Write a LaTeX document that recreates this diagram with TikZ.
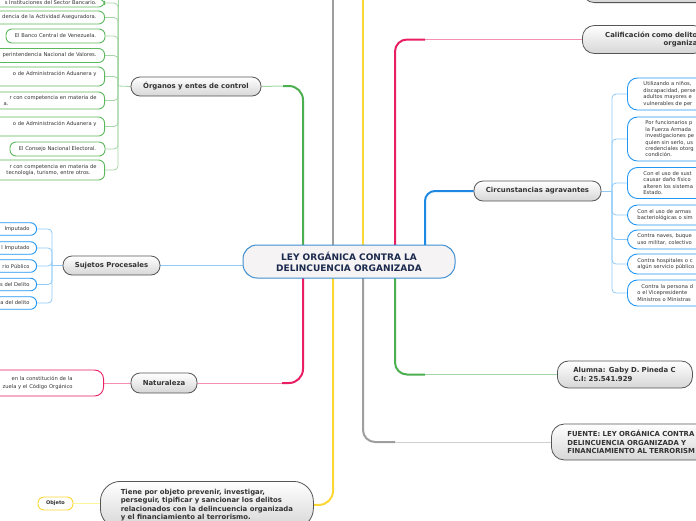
\documentclass[tikz,border=0pt]{standalone}
\usepackage{fontspec}
\setmainfont{DejaVu Sans}
\usetikzlibrary{backgrounds}
\definecolor{gD}{HTML}{4CAF50}
\definecolor{gL}{HTML}{A5D6A7}
\definecolor{gBd}{HTML}{5CB85C}
\definecolor{bD}{HTML}{1E88E5}
\definecolor{bL}{HTML}{90CAF9}
\definecolor{bBd}{HTML}{2196F3}
\definecolor{pD}{HTML}{E91E63}
\definecolor{pL}{HTML}{F48FB1}
\definecolor{yD}{HTML}{FDD835}
\definecolor{yL}{HTML}{FFF59D}
\definecolor{grD}{HTML}{9E9E9E}
\definecolor{grL}{HTML}{CFCFCF}
\definecolor{txt}{HTML}{333333}
\definecolor{navy}{HTML}{1B2A4E}
\definecolor{nodeB}{HTML}{555555}
\definecolor{ctrB}{HTML}{3D8FD1}
\definecolor{ctrF}{HTML}{F5F3F3}
\begin{document}
\begin{tikzpicture}[x=1pt,y=-1pt,
  mainnode/.style={draw=nodeB, line width=0.8pt, rounded corners=9pt, top color=white, bottom color=black!16, text=txt, font=\bfseries\fontsize{6.9}{8.5}\selectfont, inner sep=0pt, align=center},
  leaf/.style={fill=white, line width=0.9pt, rounded corners=6pt, font=\fontsize{5.2}{6.3}\selectfont, text=txt, inner ysep=0pt},
  gleaf/.style={leaf, draw=gBd, anchor=east, text width=150pt, align=right, inner xsep=8pt},
  sleaf/.style={leaf, draw=bBd, anchor=east, text width=100pt, align=right, inner xsep=7pt, minimum height=12.5pt},
  cleaf/.style={leaf, draw=bBd, anchor=west, text width=150pt, align=left, rounded corners=10pt, font=\fontsize{5.2}{6.4}\selectfont},
  darkline/.style={line width=2pt},
  lightline/.style={line width=1pt},
  twig/.style={line width=0.8pt, rounded corners=4pt}
]
\clip (0,0) rectangle (696,520);

% central node
\node[draw=ctrB, line width=1pt, fill=ctrF, rounded corners=14pt, minimum width=212pt, minimum height=33pt, inner sep=0pt, align=center, text=navy, font=\bfseries\fontsize{9}{11}\selectfont] (ctr) at (349,261.5) {LEY ORGÁNICA CONTRA LA\\DELINCUENCIA ORGANIZADA};

% main nodes
\node[mainnode, minimum width=130pt, minimum height=19pt] (org) at (196,86.5) {Órganos y entes de control};
\node[mainnode, minimum width=97pt, minimum height=19pt] (suj) at (111.5,265.5) {Sujetos Procesales};
\node[mainnode, minimum width=66pt, minimum height=20pt] (nat) at (164,383) {Naturaleza};
\node[mainnode, minimum width=213pt, minimum height=47pt, rounded corners=20pt, anchor=north west, align=left] (objb) at (100,481) {Tiene por objeto prevenir, investigar,\\perseguir, tipificar y sancionar los delitos\\relacionados con la delincuencia organizada\\y el financiamiento al terrorismo.};
\node[leaf, draw=yD, font=\bfseries\fontsize{5}{6}\selectfont, minimum width=35pt, minimum height=13pt, inner sep=0pt] (objs) at (55.5,503.5) {Objeto};
\node[mainnode, anchor=south west, minimum width=160pt, minimum height=40pt, rounded corners=12pt] (topn) at (582,3) {};
\node[mainnode, anchor=west, minimum height=28pt, rounded corners=12pt, text width=107pt, align=right, inner xsep=8pt] (calif) at (582,39.5) {Calificación como delito\\organiza};
\node[mainnode, minimum width=127pt, minimum height=20pt] (circ) at (537.5,191) {Circunstancias agravantes};
\node[mainnode, anchor=west, minimum height=27pt, rounded corners=11pt, text width=103pt, align=left, inner xsep=16pt] (alum) at (557,374.5) {Alumna: Gaby D. Pineda C\\C.I: 25.541.929};
\node[mainnode, anchor=west, minimum height=36pt, rounded corners=13pt, text width=150pt, align=left, inner xsep=16pt] (fuente) at (551,442) {FUENTE: LEY ORGÁNICA CONTRA\\DELINCUENCIA ORGANIZADA Y\\FINANCIAMIENTO AL TERRORISM};

% Organos leaves
\node[gleaf, minimum height=8pt] (o1) at (105,3) {s Instituciones del Sector Bancario.};
\node[gleaf, minimum height=13pt] (o2) at (105,17.5) {dencia de la Actividad Aseguradora.};
\node[leaf, draw=gBd, minimum width=99pt, minimum height=14pt, inner xsep=0pt, align=center] (o3) at (55.5,36) {El Banco Central de Venezuela.};
\node[gleaf, minimum height=14pt] (o4) at (105,55.5) {perintendencia Nacional de Valores.};
\node[gleaf, minimum height=19pt] (o5) at (105,76.5) {o de Administración Aduanera y\hspace*{10pt}\\\mbox{}};
\node[gleaf, minimum height=17pt] (o6) at (105,100.5) {r con competencia en materia de\hspace*{4pt}\\a.\hspace*{88pt}};
\node[gleaf, minimum height=19pt] (o7) at (105,126.5) {o de Administración Aduanera y\hspace*{10pt}\\\mbox{}};
\node[leaf, draw=gBd, minimum width=95pt, minimum height=14pt, inner xsep=0pt, align=center] (o8) at (57.5,149) {El Consejo Nacional Electoral.};
\node[gleaf, minimum height=20pt] (o9) at (105,170) {r con competencia en materia de\hspace*{4pt}\\tecnología, turismo, entre otros.\hspace*{6pt}};

% Sujetos leaves
\node[sleaf] (s1) at (37,229) {Imputado};
\node[sleaf] (s2) at (37,248) {l Imputado};
\node[sleaf] (s3) at (37,266) {rio Público};
\node[sleaf] (s4) at (37,284.5) {s del Delito};
\node[sleaf] (s5) at (37,303) {a del delito};

% Naturaleza leaf
\node[leaf, draw=pD, anchor=east, text width=150pt, align=right, inner xsep=31pt, minimum height=26pt, rounded corners=9pt, font=\fontsize{5.2}{7.4}\selectfont] (n1) at (104,383) {en la constitución de la\hspace*{7pt}\\zuela y el Código Orgánico};

% Circunstancias leaves
\node[cleaf, inner xsep=16pt, minimum height=32pt] (c1) at (627,94) {Utilizando a niños,\\discapacidad, perse\\adultos mayores e\\vulnerables de per};
\node[cleaf, inner xsep=18pt, minimum height=44pt] (c2) at (627,139) {Por funcionarios p\\la Fuerza Armada\\investigaciones pe\\quien sin serlo, us\\credenciales otorg\\condición.};
\node[cleaf, inner xsep=16pt, minimum height=31pt] (c3) at (627,183) {Con el uso de sust\\causar daño físico\\alteren los sistema\\Estado.};
\node[cleaf, inner xsep=10pt, minimum height=20pt] (c4) at (627,215) {Con el uso de armas\\bacteriológicas o sim};
\node[cleaf, inner xsep=10pt, minimum height=19pt] (c5) at (627,239.5) {Contra naves, buque\\uso militar, colectivo};
\node[cleaf, inner xsep=10pt, minimum height=20pt] (c6) at (627,264) {Contra hospitales o c\\algún servicio público};
\node[cleaf, inner xsep=10pt, minimum height=26pt] (c7) at (627,293) {\hspace*{4pt}Contra la persona d\\o el Vicepresidente\\Ministros o Ministras};

\begin{scope}[on background layer]
  \fill[white] (0,0) rectangle (696,520);
  % junctions and free ends
  \coordinate (jo) at (118,86);
  \coordinate (js) at (52,265.5);
  \coordinate (jc) at (612,191);
  \coordinate (jg1) at (283,86);
  \coordinate (cg1) at (303,262);
  \coordinate (tgy) at (333,0);
  \coordinate (cgy1) at (333,262);
  \coordinate (tyl) at (363,0);
  \coordinate (cyl1) at (363,262);
  \coordinate (cp1) at (395,262);
  \coordinate (jp1) at (425,39.5);
  \coordinate (cb1) at (425,262);
  \coordinate (cp2) at (303,262);
  \coordinate (jp2) at (282,383);
  \coordinate (cy2) at (333,262);
  \coordinate (cgy2) at (363,262);
  \coordinate (jgy2) at (395,442);
  \coordinate (cg2) at (395,262);
  \coordinate (jg2) at (425,374.5);

  % main branches
  \draw[gL, lightline] (org.east) -- (jg1);
  \draw[gD, darkline, rounded corners=14pt] (jg1) -| (cg1);
  \draw[grD, darkline] (tgy) -- (cgy1);
  \draw[yD, darkline] (tyl) -- (cyl1);
  \draw[pD, darkline, rounded corners=12pt] (cp1) |- (jp1);
  \draw[pL, lightline] (jp1) -- (calif.west);
  \draw[bD, darkline, rounded corners=10pt] (cb1) |- (circ.west);
  \draw[bL, lightline] (suj.east) -- (ctr.west |- suj.east);
  \draw[pD, darkline, rounded corners=14pt] (cp2) |- (jp2);
  \draw[pL, lightline] (jp2) -- (nat.east);
  \draw[yD, darkline, rounded corners=14pt] (cy2) |- (objb.east);
  \draw[grD, darkline, rounded corners=12pt] (cgy2) |- (jgy2);
  \draw[grL, lightline] (jgy2) -- (fuente.west);
  \draw[gD, darkline, rounded corners=12pt] (cg2) |- (jg2);
  \draw[gL, lightline] (jg2) -- (alum.west);

  % twigs
  \draw[gL, twig] (org.west) -- (jo);
  \foreach \n in {o1,o2,o3,o4,o5,o6,o7,o8,o9} \draw[gL, twig] (jo) |- (\n.east);
  \draw[gL, twig] (jo) -- ++(0,-90);
  \draw[bL, twig] (suj.west) -- (js);
  \foreach \n in {s1,s2,s3,s4,s5} \draw[bL, twig] (js) |- (\n.east);
  \draw[bL, twig] (circ.east) -- (jc);
  \foreach \n in {c1,c2,c3,c4,c5,c6,c7} \draw[bL, twig] (jc) |- (\n.west);
  \draw[pL, twig] (n1.east) -- (nat.west);
  \draw[yL, line width=1pt] (objs.east) -- (objb.west |- objs.east);
\end{scope}
\end{tikzpicture}
\end{document}
